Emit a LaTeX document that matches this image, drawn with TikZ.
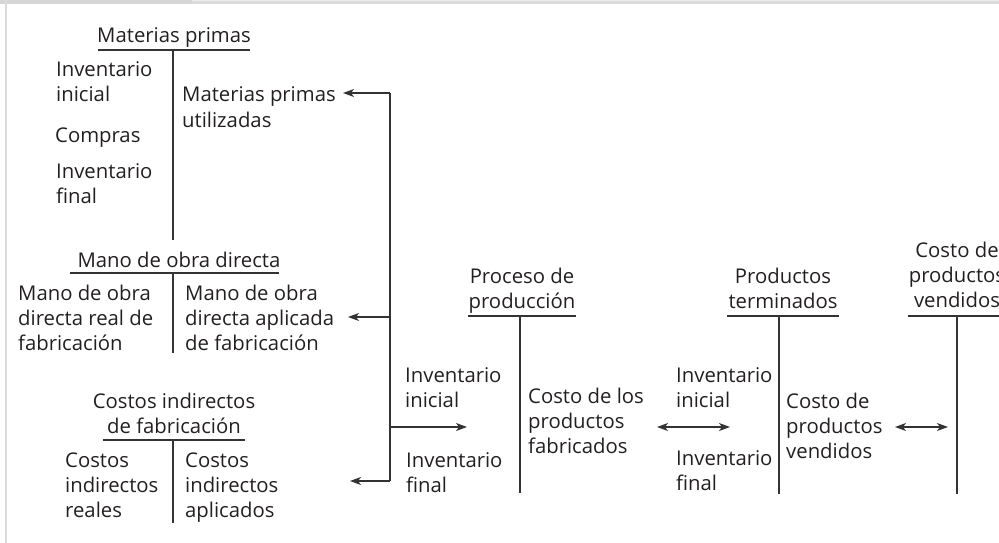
\documentclass[tikz,border=0pt]{standalone}
\usepackage{fontspec}
\setmainfont{Open Sans}
\usetikzlibrary{arrows.meta}
\definecolor{ink}{HTML}{231F20}
\definecolor{rulec}{HTML}{333333}
\begin{document}
\begin{tikzpicture}[x=1pt,y=-1pt,
  txt/.style={inner sep=0pt, anchor=base west, align=left, text=ink, font=\fontsize{20.3}{25}\selectfont},
  ttl/.style={inner sep=0pt, anchor=base, align=center, text=ink, font=\fontsize{20.3}{25}\selectfont},
  tline/.style={draw=rulec, line width=1.4pt},
  conn/.style={draw=rulec, line width=1.2pt},
  tip/.style={-{Stealth[length=11pt,width=8pt,inset=3pt]}},
  dtip/.style={{Stealth[length=11pt,width=8pt,inset=3pt]}-{Stealth[length=11pt,width=8pt,inset=3pt]}}
]
\useasboundingbox (0,0) rectangle (999,543);
% frame
\fill[gray!32] (0,0) rectangle (192,4.5);
\fill[gray!14] (192,0) rectangle (999,1.5);
\fill[gray!28] (192,1.5) rectangle (999,4.5);
\fill[gray!28] (4.5,0) rectangle (7,543);

% Materias primas
\node[ttl] (mpT) at (174,43) {Materias primas};
\draw[tline] (98,50) -- (250,50);
\draw[tline] (173,50) -- (173,240);
\node[txt] (mpII) at (56,102) {Inventario\\inicial};
\node[txt] (mpC) at (55,142) {Compras};
\node[txt] (mpIF) at (56,203) {Inventario\\final};
\node[txt] (mpU) at (182,127) {Materias primas\\utilizadas};

% Mano de obra directa
\node[ttl] (moT) at (179,267) {Mano de obra directa};
\draw[tline] (70,273) -- (279,273);
\draw[tline] (173,273) -- (173,353);
\node[txt] (moL) at (18,350) {Mano de obra\\directa real de\\fabricación};
\node[txt] (moR) at (185,350) {Mano de obra\\directa aplicada\\de fabricación};

% Costos indirectos de fabricacion
\node[ttl] (ciT) at (174,433) {Costos indirectos\\de fabricación};
\draw[tline] (103,440) -- (245,440);
\draw[tline] (173,440) -- (173,523);
\node[txt] (ciL) at (65,517) {Costos\\indirectos\\reales};
\node[txt] (ciR) at (185,517) {Costos\\indirectos\\aplicados};

% bracket connector
\coordinate (jA) at (390,93);
\coordinate (jB) at (390,317);
\coordinate (jC) at (390,427);
\coordinate (jD) at (390,481);
\coordinate (tA) at (343,93);
\coordinate (tB) at (348,317);
\coordinate (tD) at (350,481);
\coordinate (tC) at (467,427);
\draw[conn] (jA) -- (jD);
\draw[conn,tip] (jA) -- (tA);
\draw[conn,tip] (jB) -- (tB);
\draw[conn,tip] (jD) -- (tD);
\draw[conn,tip] (jC) -- (tC);

% Proceso de produccion
\node[ttl] (ppT) at (522,308) {Proceso de\\producción};
\draw[tline] (468,316) -- (576,316);
\draw[tline] (520,316) -- (520,493);
\node[txt] (ppII) at (405,407) {Inventario\\inicial};
\node[txt] (ppIF) at (406,492) {Inventario\\final};
\node[txt] (ppR) at (528,453) {Costo de los\\productos\\fabricados};

\coordinate (dA1) at (657,427);
\coordinate (dA2) at (730,427);
\draw[conn,dtip] (dA1) -- (dA2);

% Productos terminados
\node[ttl] (ptT) at (783,308) {Productos\\terminados};
\draw[tline] (727,316) -- (839,316);
\draw[tline] (779,316) -- (779,494);
\node[txt] (ptII) at (676,407) {Inventario\\inicial};
\node[txt] (ptIF) at (676,490) {Inventario\\final};
\node[txt] (ptR) at (786,458) {Costo de\\productos\\vendidos};

\coordinate (dB1) at (895,427);
\coordinate (dB2) at (948,427);
\draw[conn,dtip] (dB1) -- (dB2);

% Costo de productos vendidos
\node[ttl] (cvT) at (957,307) {Costo de\\productos\\vendidos};
\draw[tline] (908,316) -- (1006,316);
\draw[tline] (957,316) -- (957,494);
\end{tikzpicture}
\end{document}
